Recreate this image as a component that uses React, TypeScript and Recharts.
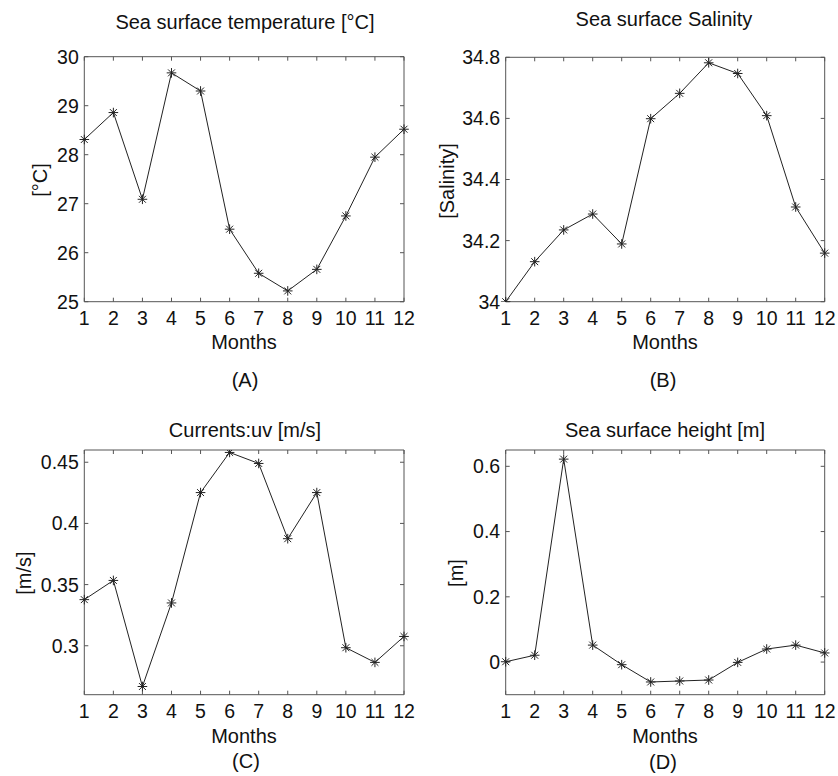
import React from 'react';
import { LineChart, Line, XAxis, YAxis } from 'recharts';

const months = [1, 2, 3, 4, 5, 6, 7, 8, 9, 10, 11, 12];
const sstValues = [28.31, 28.86, 27.09, 29.67, 29.3, 26.48, 25.58, 25.22, 25.66, 26.75, 27.95, 28.52];
const salinityValues = [34.0, 34.131, 34.235, 34.287, 34.189, 34.599, 34.682, 34.782, 34.747, 34.609, 34.31, 34.159];
const currentValues = [0.3377, 0.3534, 0.2667, 0.335, 0.4252, 0.458, 0.449, 0.3875, 0.4252, 0.2984, 0.2864, 0.3076];
const heightValues = [0.001, 0.021, 0.622, 0.052, -0.008, -0.061, -0.058, -0.055, -0.001, 0.04, 0.052, 0.028];

const sstTicks = [25, 26, 27, 28, 29, 30];
const salinityTicks = [34, 34.2, 34.4, 34.6, 34.8];
const currentTicks = [0.3, 0.35, 0.4, 0.45];
const heightTicks = [0, 0.2, 0.4, 0.6];

const FONT = '"Liberation Sans", Arial, Helvetica, sans-serif';
const TEXT = '#111';
const BOX = '#555';
const LINE = '#222';
const TICK_FS = 19.5;
const LABEL_FS = 20;

const build = (vals: number[]) => months.map((m, i) => ({ month: m, value: vals[i] }));

const Star = (props: any) => {
  const { cx, cy } = props;
  if (cx == null || cy == null) return <g />;
  const r = 4.8;
  const d = r * 0.72;
  return (
    <g stroke={LINE} strokeWidth={1}>
      <line x1={cx - r} y1={cy} x2={cx + r} y2={cy} />
      <line x1={cx} y1={cy - r} x2={cx} y2={cy + r} />
      <line x1={cx - d} y1={cy - d} x2={cx + d} y2={cy + d} />
      <line x1={cx - d} y1={cy + d} x2={cx + d} y2={cy - d} />
    </g>
  );
};

type Box = { left: number; top: number; right: number; bottom: number };

function Panel({ vals, domain, yTicks, box, ox, oy }: { vals: number[]; domain: [number, number]; yTicks: number[]; box: Box; ox: number; oy: number }) {
  const W = 419;
  const H = 388;
  const margin = {
    top: box.top - oy - 1,
    left: box.left - ox - 1,
    right: ox + W - box.right - 1,
    bottom: oy + H - box.bottom - 1,
  };
  const tickStyle = { fill: TEXT, fontSize: TICK_FS, fontFamily: FONT };
  const empty = () => '';
  return (
    <div style={{ position: 'absolute', left: ox, top: oy }}>
      <LineChart width={W} height={H} data={build(vals)} margin={margin}>
        <XAxis xAxisId="b" dataKey="month" type="number" domain={[1, 12]} ticks={months} interval={0}
          height={1} tickSize={-4} tickMargin={13} stroke={BOX} tick={tickStyle} />
        <XAxis xAxisId="t" orientation="top" dataKey="month" type="number" domain={[1, 12]} ticks={months} interval={0}
          height={1} tickSize={-4} tickMargin={0} stroke={BOX} tickFormatter={empty} />
        <YAxis yAxisId="l" type="number" domain={domain} ticks={yTicks} interval={0} allowDataOverflow
          width={1} tickSize={-4} tickMargin={9.5} stroke={BOX} tick={tickStyle} />
        <YAxis yAxisId="r" orientation="right" type="number" domain={domain} ticks={yTicks} interval={0} allowDataOverflow
          width={1} tickSize={-4} tickMargin={0} stroke={BOX} tickFormatter={empty} />
        <Line xAxisId="b" yAxisId="l" dataKey="value" type="linear" stroke={LINE} strokeWidth={1}
          dot={<Star />} activeDot={false} isAnimationActive={false} />
      </LineChart>
    </div>
  );
}

const T = (p: { x: number; y: number; children: React.ReactNode; rot?: boolean; fs?: number }) => (
  <text x={p.x} y={p.y} textAnchor="middle" dominantBaseline="central" fontFamily={FONT} fontSize={p.fs ?? LABEL_FS} fill={TEXT}
    transform={p.rot ? `rotate(-90 ${p.x} ${p.y})` : undefined}>{p.children}</text>
);

export default function App() {
  return (
    <div style={{ position: 'absolute', left: 0, top: 0, width: 838, height: 776, background: '#fff', overflow: 'hidden' }}>
      <Panel vals={sstValues} domain={[25, 30]} yTicks={sstTicks} ox={0} oy={0}
        box={{ left: 84.3, top: 56.7, right: 404, bottom: 301.7 }} />
      <Panel vals={salinityValues} domain={[34, 34.8]} yTicks={salinityTicks} ox={419} oy={0}
        box={{ left: 505.7, top: 57.3, right: 824.7, bottom: 301.7 }} />
      <Panel vals={currentValues} domain={[0.26, 0.46]} yTicks={currentTicks} ox={0} oy={388}
        box={{ left: 84.3, top: 450, right: 404, bottom: 694.7 }} />
      <Panel vals={heightValues} domain={[-0.1, 0.65]} yTicks={heightTicks} ox={419} oy={388}
        box={{ left: 505.7, top: 450, right: 824.7, bottom: 694.7 }} />
      <svg width={838} height={776} style={{ position: 'absolute', left: 0, top: 0, pointerEvents: 'none' }}>
        <T x={245} y={22}>Sea surface temperature [°C]</T>
        <T x={664} y={19}>Sea surface Salinity</T>
        <T x={245} y={430}>Currents:uv [m/s]</T>
        <T x={665} y={430}>Sea surface height [m]</T>
        <T x={244} y={342}>Months</T>
        <T x={665} y={342}>Months</T>
        <T x={244} y={735.5}>Months</T>
        <T x={665} y={735.5}>Months</T>
        <T x={245} y={380}>(A)</T>
        <T x={663} y={380}>(B)</T>
        <T x={246} y={761}>(C)</T>
        <T x={663} y={762}>(D)</T>
        <T x={40} y={180} rot>[°C]</T>
        <T x={446.5} y={181} rot>[Salinity]</T>
        <T x={24.2} y={573} rot>[m/s]</T>
        <T x={455.7} y={573} rot>[m]</T>
      </svg>
    </div>
  );
}
